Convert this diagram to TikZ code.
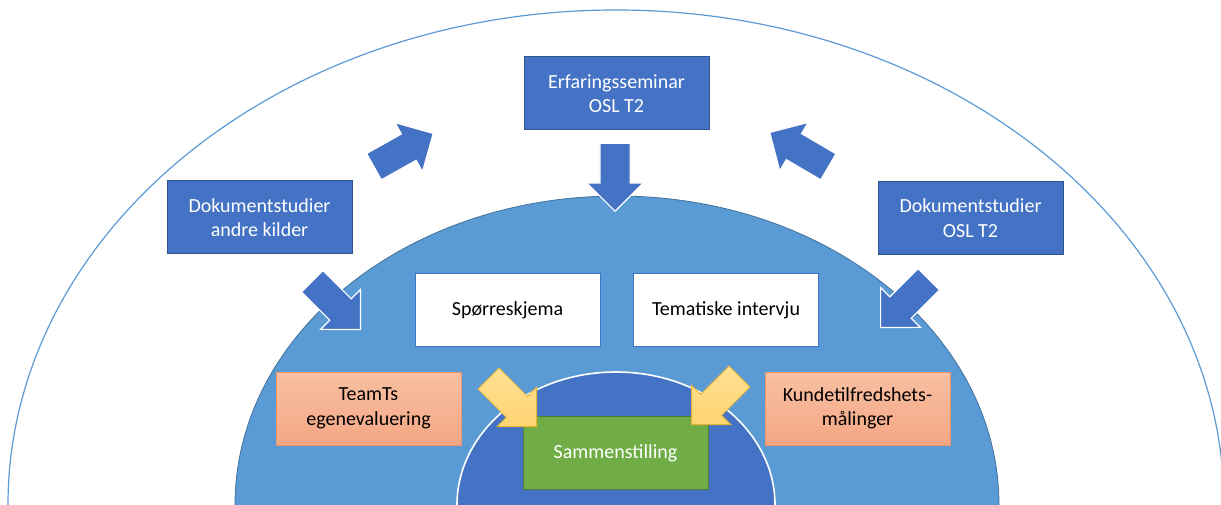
\documentclass[tikz,border=0pt]{standalone}
\usepackage{fontspec}
\setmainfont{Carlito}
\usetikzlibrary{shapes.arrows}
\definecolor{accentblue}{HTML}{4472C4}
\definecolor{accentedge}{HTML}{2F528F}
\definecolor{skyblue}{HTML}{5B9BD5}
\definecolor{skyedge}{HTML}{41719C}
\definecolor{leafgreen}{HTML}{70AD47}
\definecolor{leafedge}{HTML}{507E32}
\definecolor{peachtop}{RGB}{248,192,162}
\definecolor{peachbot}{RGB}{244,166,132}
\definecolor{peachedge}{RGB}{240,150,100}
\definecolor{sandtop}{RGB}{255,224,148}
\definecolor{sandbot}{RGB}{255,212,112}
\definecolor{sandedge}{RGB}{230,180,50}
\begin{document}
\begin{tikzpicture}[x=1pt,y=-1pt,
  box/.style={rectangle, minimum width=185pt, minimum height=73pt, inner sep=2pt,
    line width=1pt, align=center, font=\fontsize{20}{24.5}\selectfont},
  bluebox/.style={box, fill=accentblue, draw=accentedge, text=white},
  whitebox/.style={box, fill=white, draw=accentblue, text=black},
  peachbox/.style={box, top color=peachtop, bottom color=peachbot, draw=peachedge, text=black},
  greenbox/.style={box, fill=leafgreen, draw=leafedge, text=white},
  blockarrow/.style={single arrow, single arrow head extend=13pt, single arrow tip angle=90,
    minimum height=68pt, minimum width=0pt, inner xsep=0pt, inner ysep=14.5pt, line join=miter},
  bluearrow/.style={blockarrow, fill=accentblue, draw=white, line width=1.2pt},
  sandarrow/.style={blockarrow, top color=sandtop, bottom color=sandbot, draw=sandedge, line width=0.8pt},
]
\useasboundingbox (0,0) rectangle (1221,505);
\fill[white] (0,0) rectangle (1221,505);

% nested half-ellipses resting on the lower edge
\begin{scope}
  \clip (0,0) rectangle (1221,505);
  \draw[skyblue, line width=1.2pt] (616,505) ellipse [x radius=608pt, y radius=495pt];
  \draw[fill=skyblue, draw=skyedge, line width=0.8pt] (617,505) ellipse [x radius=382pt, y radius=309pt];
  \draw[fill=accentblue, draw=white, line width=1.6pt] (616,505) ellipse [x radius=159pt, y radius=133pt];
\end{scope}

% boxes
\node[bluebox] (erf) at (616.5,93.5) {Erfaringsseminar\\OSL T2};
\node[bluebox] (doka) at (259.5,217.5) {Dokumentstudier\\andre kilder};
\node[bluebox] (dokb) at (970.5,218) {Dokumentstudier\\OSL T2};
\node[whitebox] (spor) at (507.5,310) {Spørreskjema};
\node[whitebox] (tema) at (726,310) {Tematiske intervju};
\node[peachbox] (team) at (368.5,408.5) {TeamTs\\egenevaluering};
\node[peachbox] (kunde) at (857.5,408.5) {Kundetilfredshets-\\målinger};
\node[greenbox] (sam) at (615.5,453) {Sammenstilling};

% block arrows
\node[bluearrow, rotate=29.3, anchor=tip] (upr) at (434,133) {};
\node[bluearrow, rotate=149.6, anchor=tip] (upl) at (769,132) {};
\node[bluearrow, rotate=-90, anchor=tip] (down) at (615,212) {};
\node[bluearrow, rotate=-45, anchor=tip] (inl) at (361,330) {};
\node[bluearrow, rotate=-135, anchor=tip] (inr) at (880,328) {};
\node[sandarrow, rotate=-45, anchor=tip] (yl) at (537,427) {};
\node[sandarrow, rotate=-135, anchor=tip] (yr) at (691,425) {};
\end{tikzpicture}
\end{document}
